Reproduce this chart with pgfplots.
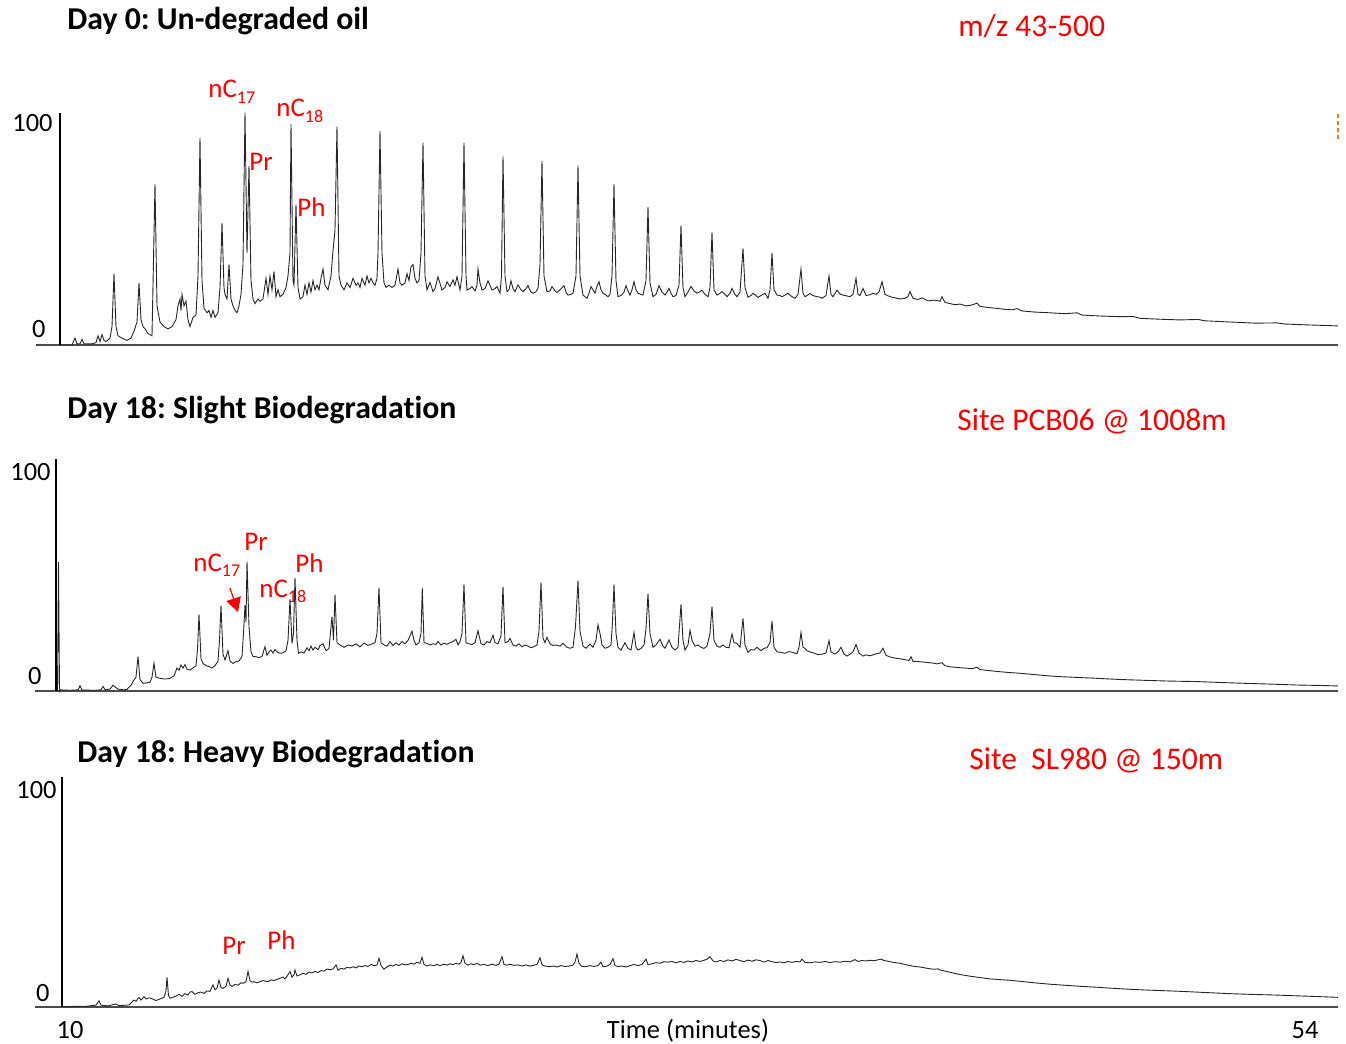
\documentclass[border=0pt]{standalone}
\usepackage{pgfplots}
\pgfplotsset{compat=1.18}
\usepackage{pgfplotstable}
\usepackage{fontspec}
\setmainfont{Carlito}[Ligatures=NoCommon]
\usetikzlibrary{arrows.meta}
\frenchspacing

% columns: position along the trace (reference pixel column), relative abundance (%)
\pgfplotstableread{
px val
60 0
66 0
72 0
75 3
77 0.5
80 0.5
82 2.5
84 0.5
92 0.5
96 1
98 4
100 1.5
102 4.5
104 2
106 1.5
110 3
112 8
114 31
116 8
118 4
122 3
127 2
131 3
134 6
137 10
139 27
141 11
143 8
145 7
148 5
152 4
155 70
157 17
160 10
164 8
168 7
172 8
176 11
178 17
180 20
181 15
182 22
184 17
186 19
188 11
190 8
193 12
196 13
198 30
200 90
202 28
204 16
207 14
209 15
211 12
213 15
215 12
218 14
220 25
222 53
224 25
225 22
227 20
229 35
231 20
233 17
235 15
237 14
239 17
241 22
243 35
245 101
247 40
249 78
251 28
253 20
255 18
258 20
260 19
263 20
266 29
268 22
270 30
272 24
274 32
276 21
278 24
280 21
283 22
286 25
288 30
290 40
291 96
293 28
294 26
296 61
298 25
300 20
303 21
305 26
307 22
309 27
311 23
313 28
315 24
317 26
319 24
321 29
323 33
325 26
328 24
331 30
333 41
335 50
337 95
339 30
341 26
344 24
347 27
350 25
353 29
356 26
358 27
360 25
362 29
365 26
367 30
369 27
371 29
373 27
375 26
377 29
378 40
380 93
382 40
384 27
386 25
389 26
392 25
395 26
398 33
400 27
402 26
405 27
407 31
409 28
411 34
413 35
415 29
417 27
419 28
421 40
423 88
425 30
427 23.9
430 27.2
433 23.2
435 24.5
438 29.7
442 23.9
445 25
447 27.5
450 25.4
453 28.3
455 26
457 29.7
460 23.9
462 30
464 88
466 30
467 23.9
470 24.5
472 25.4
475 23.5
477 26
478 33
480 27
482 23.9
485 24.5
488 27.9
492 23.9
495 24.5
497 25.4
500 22.5
501.5 30
503 82
505 30
507 23.2
509 24
511 27.9
513 24.5
515 23.2
518 26.1
521 24
523 23.2
526 24.5
528 25.8
531 23
533 22.5
536 23.2
538 24.6
540 35
542 80
544 30
547 23.2
550 23.5
552 25.4
555 23.5
557 22.9
560 24
564 25.8
566 23
568 21.7
571 22
573 22.5
576 30
578 78
580 30
583 21.7
587 20.3
589 22.5
591 25.4
593 24
595 22.5
597 25.5
599 27.5
601 24
603 22.5
606 21.7
608 21
610 22
612 30
614 70
616 28
618 21
621 21.5
624 23
626 25.8
628 23.5
630 21.7
632 24
634 27.5
636 24
638 22.5
641 22
643 21.7
646 28
648 60
650 27
653 21
656 22
659 25.8
662 23
665 21.7
667 23
669 24.6
671 22.5
673 21
676 21.5
679 26
681 52
683 25
685 21
688 23
691 25.5
694 23.5
697 22.5
700 23.2
702 23.8
705 22
708 21
710 25
712 49
714 24
717 21.7
720 22.5
722 23.2
725 22
727 21
730 22.5
732 24.6
735 22
737 21
740 23
743 42
745 25
748 20.8
751 21.5
753 22.5
756 21.5
758 20.7
761 21.5
765 22.5
768 20.3
770 24
772 40
774 24
777 21.7
780 21.5
782 21
785 21.7
788 22.5
791 21.3
795 20.3
798 22
801 33
803 22.5
805 21
808 21.8
810 22.4
813 21.5
817 21
820 20.8
822 20.3
826 21.5
829 30
831 22
833 21
837 23.8
840 22.2
843 21.7
847 21.3
850 21
853 22
856 29
858 22
860 21.5
863 24.6
866 21.5
870 21.8
873 22.5
876 22
879 23
882 27.5
885 22
890 21
895 20.5
900 20
905 20.3
908 21
910 23.2
913 20.3
918 19.8
922 20.5
928 19.2
935 19.5
940 19
942 21
945 18.5
950 18
955 17.5
960 17.8
966 17
972 17.4
977 18.2
980 16.8
988 16.3
995 16
1005 15.5
1012 15.3
1017 15.8
1022 14.8
1035 14.3
1050 14
1065 13.6
1077 14
1082 13
1100 12.6
1120 12.3
1133 12.4
1140 11.6
1160 11.2
1180 10.9
1198 11.1
1205 10.5
1230 10
1255 9.5
1277 9.6
1285 9.1
1310 8.7
1338 8.3
}\dayzero

\pgfplotstableread{
px val
57.5 0
58.5 56
59.5 0
60 0.5
70 0.3
78 0.5
80 2.3
82 0.4
95 0.3
101 0.5
103 2
105 0.6
110 0.8
113 2.5
115 1.8
118 0.8
124 0.5
127 0.7
131 2.5
134 4.8
136 6
138 15
140 5
143 3.3
146 3.5
150 3.8
152 6
154 12
156 6
160 5.5
165 5.2
170 5.5
174 6.5
177 10
179 9
181 11.3
183 10
185 11.5
187 9.5
190 9.1
193 10
196 11
197.5 18
199 33.3
201 14
203 12
206 11
209 10.6
212 10
215 11
218 13
219.5 22
221 37.2
223 16
225 13.5
228 17.5
230 13
233 12
236 12.8
239 13
242 15
243.5 25
245 37.4
246 30
247 56.2
249 28
251 17
253 15
256 14.9
259 14.5
262 15
265 19.3
267 15.5
269 17
271 17.8
273 16.5
275 18
277 17
280 16.4
283 16.6
286 17.5
288 22
290 39.9
292 20.7
293.5 25
295 49.3
297 22
298.5 16.4
301 17
304 16.5
307 18.8
309 17.5
311 19.5
313 17.8
315 19
318 18
320 19.8
323 20.5
326 17.5
329 18.5
332 32.3
333.5 22
335 42
337 21
340 20
344 19
348 20
352 19.5
356 20.5
360 19.2
364 20.8
368 19.8
372 20.5
375 21
377 25
379 44.9
381 21
384 20
387 19.5
390 21.5
393 19.8
396 21
399 20
402 21.5
405 20.5
408 22
410 24
412 26
414 22
416 20
419 21
421 25
422.3 44.6
424 21
427 20.7
430 20
433 20.5
436 20.3
438 21.5
441 20
444 20.8
447 20.3
450 21
453 21.5
456 22.5
458 20
460 21.5
462 25
464 46.4
466 21
469 20.5
472 20.2
475 21
478 26.2
481 20.5
484 20
487 21.5
490 21
493 24.3
495 21
498 20.5
501 24
503 45.4
505 21
508 21.5
510 22.9
513 20
516 19.5
519 20.5
522 19.2
525 20
528 19.5
531 18.8
534 19.3
537 20
539 26
541 47.2
543 23
545 21
547 23.3
550 20.5
553 19.8
556 20
560 19.5
563 20.8
567 19
570 18.6
573 19
575.5 28
578 48
580 26
583 19.5
586 18.6
590 20.4
593 19
596 22
598 28.8
600 25
602 20
605 18.6
608 19
611 20
612.5 30
614 46.4
616 25
618 19
621 17.8
625 21
628 18.5
631 17.8
634 25.4
636 19
638 17.8
641 18.5
644 20
646 27
648 42.3
650 25
653 19
656 20
660 22.5
663 19.5
665 18.6
669 22.2
672 19
675 17.8
678 19
681 37.7
683 22
685 17.8
688 20
690 26.4
692 22
695 19.5
698 20
701 19
704 18.5
707 19.5
710 25
712 36.7
714 22
717 19.5
720 19
723 20
726 19
729 18.8
732 24.8
734 21
737 20.7
740 19
743 31.6
745 20
748 16.8
751 18
754 17.8
757 19
761 17.5
764 18.6
767 18.8
770 21
772 30.4
774 19
777 17
781 16.8
785 16.4
789 17.1
793 16.8
797 16.2
799 19
801 25.4
803 19
805 18.5
807 17.5
810 17
814 16.5
818 15.8
822 16
826 16.5
829 21.9
831 17
835 16.1
838 17
841 19
844 16
847 15.2
850 16
853 17
856 20.2
859 16.5
863 15.2
866 15.7
870 15.3
873 15.7
877 16.3
880 16.5
883 18.6
886 15.5
890 14.8
895 14.3
900 14
905 13.6
909 13.3
911 14.9
913 12.9
918 12.8
925 12.5
932 12.2
937 11.8
942 12.3
945 11
950 10.5
958 10.2
967 9.9
972 9.7
977 10.3
980 9.3
988 8.9
997 8.5
1010 8
1020 7.7
1040 6.9
1057 6.3
1077 5.9
1097 5.5
1120 5
1147 4.6
1170 4.3
1197 4.1
1220 3.7
1247 3.3
1270 3
1297 2.6
1320 2.4
1338 2.2
}\dayeighteenslight

\pgfplotstableread{
px val
62 0
75 0.3
85 0.2
90 0.5
96 0.8
99 2.7
101 0.8
108 0.5
113 1.0
116 1.3
119 0.6
126 0.8
129 0.9
132 2.2
134 3
136 2.5
139 4.2
141 3
144 4.5
146 3.5
149 4
152 3.6
156 2.8
160 3.5
164 4.2
166 7
167 12.9
168.5 5
170 3.8
173 4.2
176 4.8
179 5.5
182 4.6
185 5.8
188 5.2
190 6.5
192 6.7
195 5.5
198 6.2
201 6.5
204 5.9
207 7
210 6.8
213 9.6
215 7.5
217 8.2
219 11.7
221 8.5
223 8.1
226 9
228 12.5
230 9.5
232 9
235 9.8
238 9.5
241 10.5
243 10.3
246 11
248 15.5
250 11.5
252 10.8
254 11
257 10.5
260 11
263 11.5
266 11.2
268 11
271 11.8
274 11.5
277 12
280 12.5
283 13
285 12.2
288 14
290 15.4
292 13
294 14
295 16.1
297 13.5
300 14
303 14.6
306 14.2
309 15.2
312 14.8
315 15.5
318 15
321 15.8
324 15.6
327 16.5
330 16.2
333 16.5
336 18.3
338 16
341 16.8
344 16.5
347 17.2
350 17
353 17.5
356 17
359 17.8
362 17.5
365 18
368 17.6
371 18.5
374 18
377 18.2
379 21.2
381 18
384 16.4
387 17.5
390 18.2
393 17.8
396 18.5
399 18
402 18.8
405 18.3
408 18.5
411 19
414 18.6
417 19.5
420 19
422 21.6
424 18.5
427 17.8
430 18.3
434 18
437 18.5
440 18
444 18.6
447 18.2
450 18.8
453 18.4
456 19
459 18.6
461 19.3
463 22.3
465 19
468 18.2
471 18.8
474 18.4
477 19
480 18.2
484 18.5
488 18
492 18.6
496 18.1
499 18.6
502 21.9
504 18.5
507 18.2
510 18.6
514 18.1
518 18.3
522 17.8
526 18.3
530 17.8
534 18.2
537 18.5
540 21.4
542 18.3
545 17.8
549 17.5
553 17.8
557 17.4
561 18
565 17.6
569 17.8
573 18.2
575 19.5
577 23
579 19
582 17.6
586 17.5
590 18
594 17.6
598 18
601 19.5
603 17.5
607 17.8
610 18.5
613 21
615 18
618 17.6
622 17.8
626 17.4
630 18
634 18.5
638 18
642 18.5
646 20.8
648 18.4
652 18.8
656 19.3
660 19
664 19.7
668 19.5
672 19.8
676 19.2
680 19.8
684 19.4
688 20
692 19.6
696 20.2
700 19.8
704 20.3
707 20.8
710 21.9
713 20
716 19.6
720 20.2
724 19.8
728 20.5
732 20
736 20.7
740 20.2
744 19.7
748 20.4
752 19.9
756 20.5
760 20.2
764 19.5
768 20.2
772 19.7
776 19.3
780 19.6
784 19.2
788 19.8
792 19.4
796 19.8
800 19.6
802 20.8
805 19.4
810 19.2
815 19.6
820 19.4
825 19.8
830 19.3
835 19.7
840 19.5
845 19.9
850 19.6
855 20.6
858 19.8
862 20.2
866 20
870 20.3
874 20.1
878 20.5
881 20.8
884 20.2
888 19.9
892 19.5
896 19.2
900 19
905 18.5
910 18
915 17.6
920 17.4
925 17
930 16.6
935 16.4
938 16.6
940 16.1
945 15.6
950 15.1
955 14.6
960 14.1
970 13.4
980 12.8
990 12.2
1000 11.9
1010 11.6
1020 11.2
1030 10.7
1040 10.3
1050 9.9
1060 9.6
1070 9.3
1080 9
1096 8.6
1110 8.2
1130 7.7
1150 7.3
1170 7
1186 6.7
1210 6.2
1230 5.8
1250 5.5
1275 5.2
1300 4.8
1320 4.5
1338 4.2
}\dayeighteenheavy

\pgfplotsset{
  chrom/.style={
    scale only axis, hide axis, clip=false,
    anchor=south west,
    xmax=55.173, ymin=0,
  },
  trace/.style={black!85, line width=0.45pt},
}
\newcommand{\xconv}{10+(\thisrowno{0}-70)/28.07}

\begin{document}
\begin{tikzpicture}
\useasboundingbox (0,0) rectangle (673pt,522pt);

% Panel 1
\begin{axis}[chrom, at={(30pt,349.5pt)}, width=639pt, height=116pt,
  xmin=9.6437, ymax=100.87]
  \draw[black!70, line width=1pt] (rel axis cs:-0.0188,0) -- (rel axis cs:1,0);
  \draw[black, line width=1.3pt] (rel axis cs:0,0) -- (rel axis cs:0,1);
  \addplot[trace] table[x expr=\xconv, y index=1] {\dayzero};
\end{axis}

% Panel 2
\begin{axis}[chrom, at={(28pt,176.5pt)}, width=641pt, height=116pt,
  xmin=9.5012, ymax=100.87]
  \draw[black!70, line width=1pt] (rel axis cs:-0.0165,0) -- (rel axis cs:1,0);
  \draw[black, line width=1.1pt] (rel axis cs:0,0) -- (rel axis cs:0,1);
  \addplot[trace] table[x expr=\xconv, y index=1] {\dayeighteenslight};
\end{axis}

% Panel 3
\begin{axis}[chrom, at={(31pt,18.5pt)}, width=638pt, height=115pt,
  xmin=9.715, ymax=100]
  \draw[black!70, line width=1pt] (rel axis cs:-0.0212,0) -- (rel axis cs:1,0);
  \draw[black, line width=1.1pt] (rel axis cs:0,0) -- (rel axis cs:0,1);
  \addplot[trace] table[x expr=\xconv, y index=1] {\dayeighteenheavy};
\end{axis}

\begin{scope}[x=0.5pt, y=-0.5pt, yshift=522pt]
  % titles
  \node[anchor=base west, inner sep=0pt] at (67,30) {\fontsize{15.9}{18}\selectfont\bfseries Day 0: Un-degraded oil};
  \node[anchor=base west, inner sep=0pt] at (67,419) {\fontsize{15.9}{18}\selectfont\bfseries Day 18: Slight Biodegradation};
  \node[anchor=base west, inner sep=0pt] at (77,763) {\fontsize{15.9}{18}\selectfont\bfseries Day 18: Heavy Biodegradation};
  % right labels
  \node[anchor=base west, inner sep=0pt, red] at (958,37) {\fontsize{15.8}{18}\selectfont m/z 43-500};
  \node[anchor=base west, inner sep=0pt, red] at (957,431) {\fontsize{15.8}{18}\selectfont Site PCB06 @ 1008m};
  \node[anchor=base west, inner sep=0pt, red] at (969,770) {\fontsize{15.8}{18}\selectfont Site\ \ SL980 @ 150m};
  % y labels
  \node[anchor=base east, inner sep=0pt] at (53,132) {\fontsize{13.2}{15}\selectfont 100};
  \node[anchor=base east, inner sep=0pt] at (46,338) {\fontsize{13.2}{15}\selectfont 0};
  \node[anchor=base east, inner sep=0pt] at (51,481) {\fontsize{13.2}{15}\selectfont 100};
  \node[anchor=base east, inner sep=0pt] at (42,685) {\fontsize{13.2}{15}\selectfont 0};
  \node[anchor=base east, inner sep=0pt] at (57,799) {\fontsize{13.2}{15}\selectfont 100};
  \node[anchor=base east, inner sep=0pt] at (50,1002) {\fontsize{13.2}{15}\selectfont 0};
  % x labels
  \node[anchor=base, inner sep=0pt] at (70,1039) {\fontsize{13.2}{15}\selectfont 10};
  \node[anchor=base, inner sep=0pt] at (688,1039) {\fontsize{13.2}{15}\selectfont Time (minutes)};
  \node[anchor=base, inner sep=0pt] at (1305,1039) {\fontsize{13.2}{15}\selectfont 54};
  % peak labels panel 1
  \node[anchor=base west, inner sep=0pt, red] at (208,98) {\fontsize{13.5}{15}\selectfont nC\raisebox{-3pt}{\fontsize{9}{10}\selectfont 17}};
  \node[anchor=base west, inner sep=0pt, red] at (249,171) {\fontsize{13.5}{15}\selectfont Pr};
  \node[anchor=base west, inner sep=0pt, red] at (276,117) {\fontsize{13.5}{15}\selectfont nC\raisebox{-3pt}{\fontsize{9}{10}\selectfont 18}};
  \node[anchor=base west, inner sep=0pt, red] at (297,217) {\fontsize{13.5}{15}\selectfont Ph};
  % peak labels panel 2
  \node[anchor=base west, inner sep=0pt, red] at (244,551) {\fontsize{13.5}{15}\selectfont Pr};
  \node[anchor=base west, inner sep=0pt, red] at (193,572) {\fontsize{13.5}{15}\selectfont nC\raisebox{-2.5pt}{\fontsize{9}{10}\selectfont 17}};
  \node[anchor=base west, inner sep=0pt, red] at (259,598) {\fontsize{13.5}{15}\selectfont nC\raisebox{-2.5pt}{\fontsize{9}{10}\selectfont 18}};
  \node[anchor=base west, inner sep=0pt, red] at (295,573) {\fontsize{13.5}{15}\selectfont Ph};
  \draw[red, line width=0.6pt, -{Triangle[length=7pt, width=7.5pt]}] (230,588) -- (238,612);
  % peak labels panel 3
  \node[anchor=base west, inner sep=0pt, red] at (222,955) {\fontsize{13.5}{15}\selectfont Pr};
  \node[anchor=base west, inner sep=0pt, red] at (267,950) {\fontsize{13.5}{15}\selectfont Ph};
  % small marker at right edge of top panel
  \draw[orange!70!brown, line width=0.8pt, dash pattern=on 2pt off 1.5pt] (1338,114) -- (1338,142);
\end{scope}
\end{tikzpicture}
\end{document}
